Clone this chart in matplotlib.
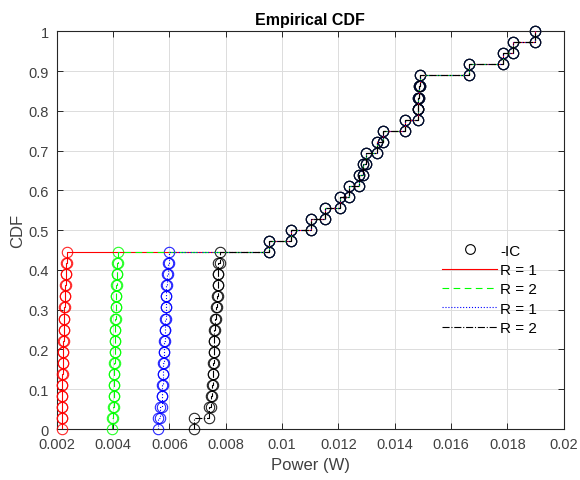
import matplotlib
matplotlib.use('Agg')
import matplotlib.pyplot as plt
from matplotlib.ticker import FormatStrFormatter
import numpy as np

plt.rcParams['font.family'] = ['Liberation Sans', 'DejaVu Sans']

# # lower part of each sample (first 16 sorted powers), differs per run
p_r1 = [0.00217, 0.00219, 0.00219, 0.00220, 0.00220, 0.00221, 0.00222, 0.00223,
        0.00224, 0.00225, 0.00227, 0.00228, 0.00230, 0.00231, 0.00233, 0.00237]
p_r2 = [0.00397, 0.00400, 0.00402, 0.00403, 0.00403, 0.00404, 0.00405, 0.00406,
        0.00407, 0.00408, 0.00409, 0.00410, 0.00411, 0.00412, 0.00413, 0.00418]
p_r1b = [0.00560, 0.00568, 0.00572, 0.00574, 0.00576, 0.00578, 0.00580, 0.00582,
         0.00584, 0.00585, 0.00587, 0.00588, 0.00589, 0.00591, 0.00593, 0.00598]
p_r2b = [0.00688, 0.00740, 0.00747, 0.00752, 0.00754, 0.00755, 0.00757, 0.00757,
         0.00758, 0.00761, 0.00764, 0.00768, 0.00771, 0.00773, 0.00774, 0.00778]

# # upper part, common to all runs
p_common = [0.00955, 0.01032, 0.01102, 0.01152, 0.01206, 0.01236, 0.01272, 0.01287,
            0.01298, 0.01336, 0.01359, 0.01436, 0.01482, 0.01484, 0.01485, 0.01490,
            0.01665, 0.01783, 0.01820, 0.01898]

labels = ['R = 1', 'R = 2', 'R = 1', 'R = 2']
colors = ['#ff0000', '#00ff00', '#0000ff', '#000000']
styles = ['-', (0, (6, 4)), ':', '-.']

xticks = [0.002, 0.004, 0.006, 0.008, 0.01, 0.012, 0.014, 0.016, 0.018, 0.02]
yticks = [0, 0.1, 0.2, 0.3, 0.4, 0.5, 0.6, 0.7, 0.8, 0.9, 1]


def ecdf_stairs(vals):
    ''' corners of the empirical cdf staircase '''
    x = np.sort(np.asarray(vals))
    n = len(x)
    f = np.arange(n + 1) / n
    xx = np.repeat(x, 2)
    yy = np.empty(2 * n)
    yy[0::2] = f[:-1]
    yy[1::2] = f[1:]
    return xx, yy


fig = plt.figure(figsize=(5.8, 4.81), dpi=100)
ax = fig.add_axes([0.098, 0.106, 0.874, 0.827])

samples = [p_r1 + p_common, p_r2 + p_common, p_r1b + p_common, p_r2b + p_common]

# # circles first, then the staircases
for s, c in zip(samples, colors):
    xx, yy = ecdf_stairs(s)
    ax.plot(xx, yy, 'o', mfc='none', mec=c, ms=7.5, mew=0.8, alpha=0.85,
            clip_on=False)

lines = []
for s, c, ls, lab in zip(samples, colors, styles, labels):
    xx, yy = ecdf_stairs(s)
    l, = ax.plot(xx, yy, color=c, ls=ls, lw=0.8, label=lab)
    lines.append(l)

circ, = ax.plot([], [], 'o', mfc='none', mec='k', ms=7, mew=0.8, label='-IC')

ax.set_xlim(0.002, 0.02)
ax.set_ylim(0, 1)
ax.set_xticks(xticks)
ax.set_yticks(yticks)
ax.xaxis.set_major_formatter(FormatStrFormatter('%g'))
ax.yaxis.set_major_formatter(FormatStrFormatter('%g'))
ax.grid(True, color='#dcdcdc', lw=0.7)
ax.set_axisbelow(True)
ax.tick_params(direction='in', top=True, right=True, length=4, width=0.7,
               labelsize=10.5, colors='#262626', labelcolor='#404040', pad=6)
for sp in ax.spines.values():
    sp.set_color('#262626')
    sp.set_linewidth(0.8)
    sp.set_zorder(1)

ax.set_xlabel('Power (W)', fontsize=12, color='#404040')
ax.set_ylabel('CDF', fontsize=12, color='#404040', labelpad=2)
ax.set_title('Empirical CDF', fontsize=11.5, fontweight='bold', pad=5)

leg = ax.legend([circ] + lines, ['-IC'] + labels, loc='upper left',
                bbox_to_anchor=(0.745, 0.485), frameon=False, fontsize=11,
                handlelength=3.6, handletextpad=0.2, labelspacing=0.35,
                borderpad=0)

fig.savefig('out.png', dpi=100)
